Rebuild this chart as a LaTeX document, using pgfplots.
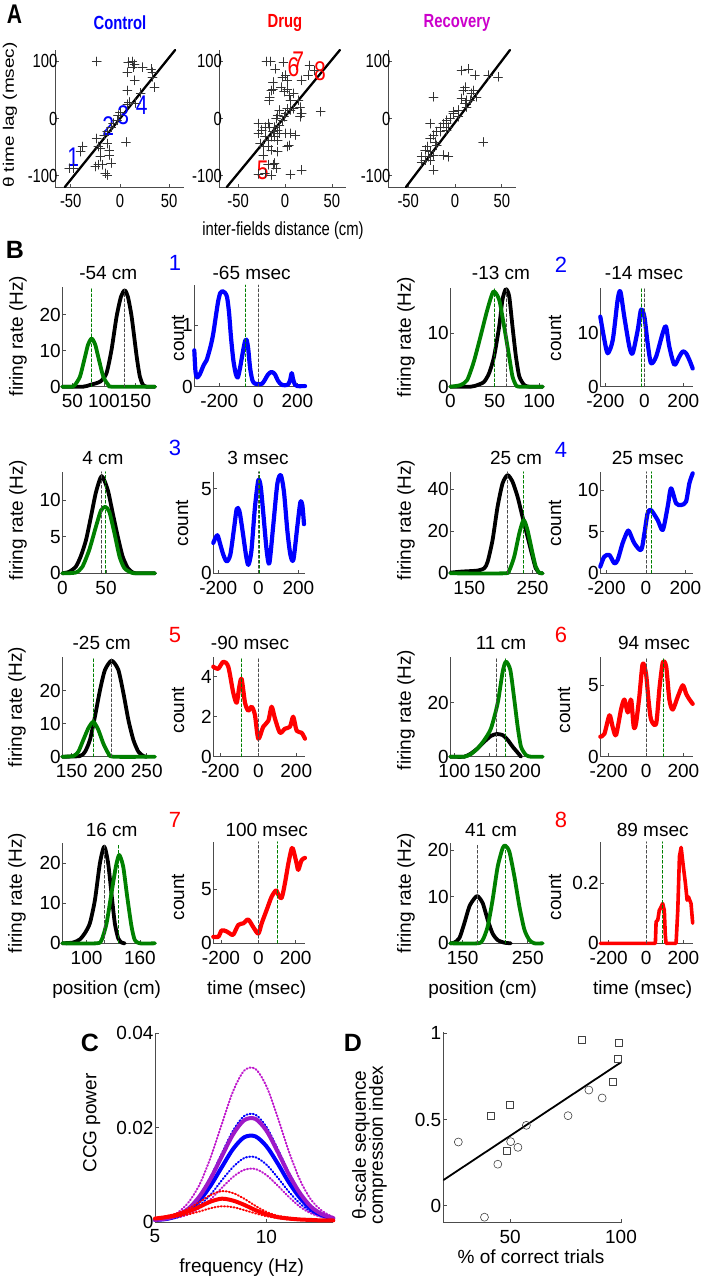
\documentclass[border=0pt]{standalone}
\usepackage{pgfplots}
\pgfplotsset{compat=1.18}
\usepackage{fontspec}
\setmainfont{Liberation Sans}
\newfontfamily\Afont[FakeStretch=0.78]{Liberation Sans}
\definecolor{mgreen}{rgb}{0,0.5,0}
\definecolor{mblue}{rgb}{0,0,1}
\definecolor{mred}{rgb}{1,0,0}
\definecolor{mmag}{rgb}{0.75,0.1,0.8}
\definecolor{mmagS}{rgb}{0.62,0.1,0.78}
\definecolor{axgray}{rgb}{0.3,0.3,0.3}
\newcommand\tf{\fontsize{19}{19}\selectfont}
\newcommand\nf{\fontsize{22}{22}\selectfont}
\pgfplotsset{
 mat/.style={scale only axis, axis lines=left, axis line style={-, axgray, line width=0.7pt},
   tick align=inside, major tick length=3.5pt, tick style={axgray, line width=0.7pt},
   clip=false, anchor=south west, scaled ticks=false,
   tick label style={font=\tf},
   /pgf/number format/assume math mode=true,
   xticklabel style={yshift=-4pt}, yticklabel style={xshift=2pt},
   every axis plot/.append style={line join=round, line cap=round}},
 box/.style n args={4}{at={(#1pt,-#4pt)},width=#2pt,height=#3pt},
 matA/.style={mat, tick label style={font=\Afont\tf}, yticklabel style={xshift=4pt},
   xmax=65, ymin=-120, ymax=120, xtick={-50,0,50}, ytick={-100,0,100}},
 pts/.style={only marks, mark=+, mark size=4.5pt, black!80, mark options={line width=0.6pt}},
 reg/.style={black, line width=2.3pt},
 blk/.style={black, line width=3.8pt, smooth, tension=0.4},
 grn/.style={mgreen, line width=3.8pt, smooth, tension=0.4},
 kd/.style={black!70, line width=0.6pt, dash pattern=on 3pt off 2pt},
 gd/.style={mgreen, line width=0.6pt, dash pattern=on 3pt off 2pt},
 ccgb/.style={mblue, line width=4.2pt, smooth, tension=0.45},
 ccgr/.style={mred, line width=4.2pt, smooth, tension=0.45},
}
\begin{document}
\begin{tikzpicture}
\path[use as bounding box] (0pt,0pt) rectangle (702pt,-1280pt);
% ---------------- Panel A ----------------
\node[font=\Afont\bfseries\fontsize{27}{27}\selectfont] at (14.5pt,-14pt) {A};
\node[font=\Afont\bfseries\tf, text=mblue] at (120pt,-23pt) {Control};
\node[font=\Afont\bfseries\tf, text=mred] at (285pt,-23pt) {Drug};
\node[font=\Afont\bfseries\tf, text={rgb,1:red,0.8;green,0;blue,0.8}] at (457pt,-23pt) {Recovery};
\node[font=\tf, rotate=90] at (10pt,-115pt) {\scalebox{1}[0.8]{θ time lag (msec)}};
\node[font=\Afont\tf] at (283pt,-231pt) {inter-fields distance (cm)};
\begin{axis}[matA, box={55}{129}{137}{187}, xmin=-66]
\addplot[pts] coordinates {(-23.6,100)(8.4,99)(12.5,100)(14.8,95)(7.5,81)(23,90)(13,90)(33,81)(33,73)(31.5,87)
(15,67)(7.5,49)(35,55)(21,45)(16,27)(9,29)(7.5,25)(-2,6)(0,10)(-3,-3)(-7,-8)(-9,-15)(-13,-23)(-16,-29)
(6,-41)(-23.6,-35)(-22,-49)(-20,-52)(-13,-44)(-11,-55)(-11,-64)(-20,-67)(-22,-81)(-25,-84)(-9,-78)(-18,-81)
(-13,-99)(-15,-96)(-38,-49)(-40,-58)(-51.5,-87)(-47,-87)};
\addplot[reg] coordinates {(-56,-120)(56,120)};
\node[font=\Afont\fontsize{27}{27}\selectfont, text=mblue] at (axis cs:-47.6,-67) {1};
\node[font=\Afont\fontsize{27}{27}\selectfont, text=mblue] at (axis cs:-11.9,-13) {2};
\node[font=\Afont\fontsize{27}{27}\selectfont, text=mblue] at (axis cs:3.4,6) {3};
\node[font=\Afont\fontsize{27}{27}\selectfont, text=mblue] at (axis cs:22,23) {4};
\end{axis}
\begin{axis}[matA, box={219.3}{126.7}{137}{187}, xmin=-70]
\addplot[pts] coordinates {(-19.7,100)(-15.3,100)(-1.7,99)(-10.5,87)(0.7,76)(2.4,67)(-12.9,64)(-14.6,49)(-16.3,38)(-17,32)
(-4.4,55)(-1,47)(2.4,52)(4.1,41)(5.8,32)(9.2,44)(14.3,32)(16,20)(17.7,9)(9.2,17)(5.8,15)(2.4,17)(0.7,9)(-1,3)
(-2.7,-3)(-6.1,15)(-7.8,6)(-9.5,0)(-6.1,-12)(-7.8,-20)(-11.2,-15)(-12.9,-23)(-14.6,-32)(-16.3,-15)(-18,-9)
(-21.4,-15)(-24.8,-20)(-28.2,-26)(-21.4,-32)(-18,-38)(-11.2,-32)(-7.8,-38)(-6.1,-26)(0.7,-26)(5.8,-26)(10.9,-29)
(2.4,-49)(4.1,-47)(-7.8,-58)(-14.6,-55)(-18,-49)(-23.1,-49)(-26.5,-44)(-28.2,-9)(-23.1,-64)(-11.2,-78)(-9.5,-87)
(-12.9,-81)(-18,-81)(-21.4,-96)(-28.2,-97)(-14.6,-99)(5.8,-98)(17.7,-90)(26.2,93)(24.5,76)(17.7,67)(38,12)
(31.3,84)(16,3)(-2.7,73)(-12.9,51)};
\addplot[reg] coordinates {(-62,-120)(58.5,120)};
\node[font=\Afont\fontsize{27}{27}\selectfont, text=mred] at (axis cs:-23.7,-91) {5};
\node[font=\Afont\fontsize{27}{27}\selectfont, text=mred] at (axis cs:8.9,90) {6};
\node[font=\Afont\fontsize{27}{27}\selectfont, text=mred] at (axis cs:14.2,100) {7};
\node[font=\Afont\fontsize{27}{27}\selectfont, text=mred] at (axis cs:37.2,83) {8};
\end{axis}
\begin{axis}[matA, box={388}{127.8}{137}{187}, xmin=-71.6]
\addplot[pts] coordinates {(7.1,84)(14.2,87)(21.3,76)(35.5,76)(46,73)(-23,38)(8.9,49)(7.1,35)(12.4,32)(16,32)
(10.6,26)(12.4,20)(3.5,15)(-1.8,9)(-5.3,0)(-8.9,-9)(-12.4,-9)(-7.1,-15)(-8.9,-20)(-16,-15)(-19.5,-23)(-23,-29)
(-26.6,-35)(-21.3,-41)(-19.5,-47)(-30.1,-49)(-31.9,-55)(-26.6,-58)(-23,-64)(-28.4,-67)(-31.9,-73)(-35.5,-76)
(-26.6,-73)(-7.1,-67)(-12.4,-64)(-23,-90)(-26.6,-9)(30.1,-41)(-1.8,12)(3.5,3)(10.6,55)(19.5,49)(17.7,44)
(23,38)(-8.9,-3)(-16,-23)(-35.5,-67)};
\addplot[reg] coordinates {(-52.4,-120)(58.8,120)};
\end{axis}
% ---------------- Panel B ----------------
\node[font=\bfseries\fontsize{25}{25}\selectfont] at (15pt,-250pt) {B};
% pair 1
\node[font=\tf] at (108.3pt,-273pt) {-54 cm};
\node[font=\tf] at (251.7pt,-273pt) {-65 msec};
\node[font=\nf, text=mblue] at (175pt,-263pt) {1};
\node[font=\tf, rotate=90] at (18pt,-336pt) {firing rate (Hz)};
\node[font=\tf, rotate=90] at (178pt,-338pt) {count};
\begin{axis}[mat, box={62.3}{92.7}{100}{386.7}, xmin=34, xmax=181, ymin=0, ymax=27.8, xtick={50,100,150}, ytick={0,10,20}]
\addplot[blk] coordinates {(34,0)(67,0)(78,0.5)(94,1.4)(104,3.7)(112,10.2)(120,19.4)(127,25)(133,26.8)(138,25)(144,19.4)(152,8.3)(157,2.8)(162,0.5)(168,0)(181,0)};
\addplot[grn] coordinates {(34,0)(50,0)(54,0.5)(62,2.8)(70,8.3)(75,11.8)(80.6,13.4)(86,11.8)(91,8.3)(99,2.8)(107,0.5)(113,0)(181,0)};
\addplot[gd] coordinates {(80.6,0)(80.6,27.8)};
\addplot[kd] coordinates {(133,0)(133,27.8)};
\end{axis}
\begin{axis}[mat, box={194.3}{110.7}{101.7}{386.7}, xmin=-328, xmax=239, ymin=0, ymax=1.65, xtick={-200,0,200}, ytick={0,1}]
\addplot[ccgb] coordinates {(-328,0.59)(-322,0.25)(-314,0.15)(-300,0.2)(-280,0.35)(-265,0.43)(-245,0.65)(-231,0.86)(-215,1.2)(-205,1.4)(-195,1.52)(-185,1.55)(-170,1.52)(-160,1.45)(-150,1.2)(-140,0.8)(-128,0.43)(-115,0.2)(-105,0.15)(-94,0.3)(-80,0.55)(-68,0.74)(-60,0.76)(-52,0.62)(-42,0.3)(-30,0.1)(-17,0.05)(0,0.04)(20,0.05)(35,0.12)(50,0.2)(68,0.24)(85,0.2)(100,0.1)(120,0.03)(150,0.03)(162,0.1)(171,0.22)(178,0.12)(188,0.03)(200,0.01)(239,0.01)};
\addplot[gd] coordinates {(-65,0)(-65,1.65)};
\addplot[kd] coordinates {(0,0)(0,1.65)};
\end{axis}
% pair 2
\node[font=\tf] at (501pt,-273pt) {-13 cm};
\node[font=\tf] at (644pt,-273pt) {-14 msec};
\node[font=\nf, text=mblue] at (561pt,-265pt) {2};
\node[font=\tf, rotate=90] at (406pt,-337pt) {firing rate (Hz)};
\node[font=\tf, rotate=90] at (555pt,-338pt) {count};
\begin{axis}[mat, box={450.3}{92.4}{98.4}{386.7}, xmin=0, xmax=104, ymin=0, ymax=18.4, xtick={0,50,100}, ytick={0,10}]
\addplot[blk] coordinates {(0,0)(22.7,0)(30.3,0.3)(37.9,0.9)(43.6,2.5)(49.2,5.6)(55,11.25)(58.7,16.25)(62.5,18.25)(66.3,16.9)(70,11.25)(73.9,5.6)(77.7,1.9)(83.3,0.3)(89,0)(104,0)};
\addplot[grn] coordinates {(0,0)(11.4,0.3)(19,1.25)(26.5,4.7)(34,9.4)(41.7,14.4)(48.5,17.8)(55,16.25)(60.6,11.25)(66.3,5.6)(70,1.9)(73.9,0.3)(77.7,0)(104,0)};
\addplot[gd] coordinates {(50,0)(50,18.4)};
\addplot[kd] coordinates {(62.5,0)(62.5,18.4)};
\end{axis}
\begin{axis}[mat, box={600.3}{92.4}{98.4}{386.7}, xmin=-226, xmax=248, ymin=0, ymax=18.4, xtick={-200,0,200}, ytick={0,10}]
\addplot[ccgb] coordinates {(-226,13.1)(-205,8.75)(-188,6.25)(-162,8.75)(-137,16.25)(-123,17.8)(-103,13.1)(-77,7.5)(-60,6.25)(-34,10.6)(-17,14.4)(0,13.1)(17,8.1)(34,4.4)(60,5.6)(94,10)(111,11.25)(128,7.5)(154,4.1)(179,5.6)(197,6.6)(214,6.25)(231,5)(248,3.4)};
\addplot[gd] coordinates {(-14,0)(-14,18.4)};
\addplot[kd] coordinates {(0,0)(0,18.4)};
\end{axis}
% pair 3
\node[font=\tf] at (103pt,-458pt) {4 cm};
\node[font=\tf] at (258pt,-458pt) {3 msec};
\node[font=\nf, text=mblue] at (175pt,-448pt) {3};
\node[font=\tf, rotate=90] at (18pt,-520pt) {firing rate (Hz)};
\node[font=\tf, rotate=90] at (182pt,-523pt) {count};
\begin{axis}[mat, box={62.3}{92.7}{101.6}{573.3}, xmin=0, xmax=106, ymin=0, ymax=13.9, xtick={0,50}, ytick={0,5,10}]
\addplot[blk] coordinates {(0,0)(7.7,0.2)(15.4,0.9)(21,2.3)(27,4.5)(32.7,7.7)(38.5,11.1)(45,13.3)(52,11.4)(57.7,8.2)(63.5,5)(69,2.3)(75,0.7)(80.8,0.1)(86.5,0)(106,0)};
\addplot[grn] coordinates {(0,0)(15.4,0.1)(23,0.9)(30.8,3.2)(38.5,6.4)(44.2,8.6)(49.2,9.1)(53.8,8.4)(59.6,5.5)(65.4,2.3)(71,0.7)(78.8,0.1)(84.6,0)(106,0)};
\addplot[gd] coordinates {(49.2,0)(49.2,13.9)};
\addplot[kd] coordinates {(45,0)(45,13.9)};
\end{axis}
\begin{axis}[mat, box={213.3}{91.7}{101.6}{573.3}, xmin=-225, xmax=233, ymin=0, ymax=6, xtick={-200,0,200}, ytick={0,5}]
\addplot[ccgb] coordinates {(-225,1.8)(-205,2.25)(-190,1.7)(-175,1.1)(-158,0.7)(-140,1.1)(-122,2.6)(-108,3.8)(-95,3.7)(-80,2.6)(-62,1.1)(-50,0.5)(-35,1.3)(-17,3.9)(0,5.5)(12,5.1)(25,3.5)(42,1.3)(55,0.6)(75,2.9)(95,5.3)(112,5.8)(128,4.8)(145,2.5)(160,1.1)(175,0.8)(195,2.8)(210,4.2)(220,4)(228,2.9)};
\addplot[gd] coordinates {(3,0)(3,6)};
\addplot[kd] coordinates {(0,0)(0,6)};
\end{axis}
% pair 4
\node[font=\tf] at (516pt,-458pt) {25 cm};
\node[font=\tf] at (647.7pt,-458pt) {25 msec};
\node[font=\nf, text=mblue] at (561pt,-450pt) {4};
\node[font=\tf, rotate=90] at (406pt,-520pt) {firing rate (Hz)};
\node[font=\tf, rotate=90] at (555pt,-523pt) {count};
\begin{axis}[mat, box={450.3}{92.4}{101.6}{573.3}, xmin=120, xmax=266, ymin=0, ymax=48.2, xtick={150,250}, ytick={0,20,40}]
\addplot[blk] coordinates {(120,0.3)(136.8,0.8)(163,1.3)(173.7,2.4)(179,5.5)(186.8,15.8)(194.7,31.6)(202.6,42.7)(210.5,46.6)(218.4,43.4)(226.3,36.3)(234,26.9)(242,17.4)(250,7.9)(255,2.4)(260.5,0.3)(265.8,0)};
\addplot[grn] coordinates {(120,0)(205,0)(213,1.3)(221,7.9)(229,19)(235.8,25.3)(242,20.5)(250,9.5)(255,3.2)(260.5,0.3)(265.8,0)};
\addplot[kd] coordinates {(210.5,0)(210.5,48.2)};
\addplot[gd] coordinates {(235.8,0)(235.8,48.2)};
\end{axis}
\begin{axis}[mat, box={600.3}{92.4}{101.6}{573.3}, xmin=-232, xmax=237, ymin=0, ymax=12.2, xtick={-200,0,200}, ytick={0,5,10}]
\addplot[ccgb] coordinates {(-232,0.8)(-212,2)(-186,2.2)(-161,1.2)(-144,1.6)(-119,3.6)(-95,5)(-85,5)(-59,3.6)(-25,2.8)(-8,4.8)(8,7.2)(25,7.6)(59,6.4)(85,5.2)(110,8)(127,10.2)(153,8.4)(178,8.2)(203,8.6)(220,10.8)(237,12)};
\addplot[kd] coordinates {(0,0)(0,12.2)};
\addplot[gd] coordinates {(25,0)(25,12.2)};
\end{axis}
% pair 5
\node[font=\tf] at (101.7pt,-643pt) {-25 cm};
\node[font=\tf] at (250pt,-643pt) {-90 msec};
\node[font=\nf, text=mred] at (175pt,-635pt) {5};
\node[font=\tf, rotate=90] at (17pt,-707pt) {firing rate (Hz)};
\node[font=\tf, rotate=90] at (178pt,-710pt) {count};
\begin{axis}[mat, box={62.3}{92.7}{100}{756.7}, xmin=137.6, xmax=261, ymin=0, ymax=30.3, xtick={150,200,250}, ytick={0,10,20}]
\addplot[blk] coordinates {(137.6,0)(161,0.2)(167.8,1.5)(174.4,5.1)(181,12.1)(187.8,20.2)(194.4,26.3)(203.3,29.1)(212.2,26.3)(219,19.2)(225.6,11.1)(232.2,5.1)(238.9,1.5)(245.6,0.2)(250,0)};
\addplot[grn] coordinates {(137.6,0)(152.2,0.2)(158.9,1.5)(165.6,5.1)(172.2,8.6)(178.9,10.6)(185.6,8.1)(192.2,4)(198.9,1)(205.6,0)(261,0)};
\addplot[gd] coordinates {(178.9,0)(178.9,30.3)};
\addplot[kd] coordinates {(203.3,0)(203.3,30.3)};
\end{axis}
\begin{axis}[mat, box={213.3}{91.7}{100}{756.7}, xmin=-237, xmax=246, ymin=0, ymax=5, xtick={-200,0,200}, ytick={0,2,4}]
\addplot[ccgr] coordinates {(-237,4.5)(-211,4.4)(-184,4.75)(-158,4.5)(-132,3.2)(-114,2.7)(-100,3.5)(-88,3.9)(-70,2.7)(-53,2.3)(-35,2.5)(-18,2.1)(0,0.9)(26,1.5)(53,1.8)(70,2.5)(88,1.9)(114,1.2)(140,1.4)(167,1.5)(184,2)(202,1.3)(228,1.2)(246,0.9)};
\addplot[gd] coordinates {(-90,0)(-90,5)};
\addplot[kd] coordinates {(0,0)(0,5)};
\end{axis}
% pair 6
\node[font=\tf] at (501pt,-643pt) {11 cm};
\node[font=\tf] at (654pt,-643pt) {94 msec};
\node[font=\nf, text=mred] at (561pt,-635pt) {6};
\node[font=\tf, rotate=90] at (406pt,-710pt) {firing rate (Hz)};
\node[font=\tf, rotate=90] at (564pt,-710pt) {count};
\begin{axis}[mat, box={450.3}{92.4}{100}{756.7}, xmin=94.3, xmax=225, ymin=0, ymax=37, xtick={100,150,200}, ytick={0,20}]
\addplot[blk] coordinates {(94.3,0)(114,0)(123.6,1.2)(133,3.1)(142.5,5.6)(151.9,7.7)(160,8.4)(168.4,8)(175.5,6.2)(182.5,3.7)(189.6,1.5)(194.3,0)};
\addplot[grn] coordinates {(94.3,0)(114,0)(123.6,1)(133,3.1)(142.5,6.2)(151.9,10.5)(161.3,19.8)(168.4,31.5)(173,35.2)(179.2,32.1)(184.9,21)(189.6,11.1)(194.3,3.7)(201.4,0.6)(208.5,0)(225,0)};
\addplot[kd] coordinates {(160,0)(160,37)};
\addplot[gd] coordinates {(172,0)(172,37)};
\end{axis}
\begin{axis}[mat, box={600.3}{92.4}{100}{756.7}, xmin=-245, xmax=250, ymin=0, ymax=7, xtick={-200,0,200}, ytick={0,5}]
\addplot[ccgr] coordinates {(-245,1.4)(-223,1.6)(-196,2.9)(-179,2.1)(-161,1.5)(-134,3.3)(-116,4)(-98,3.1)(-80,4)(-66,2.1)(-54,2.3)(-36,4.2)(-18,6.5)(0,5.8)(13,4)(27,2.6)(54,2.3)(72,4.8)(90,6.6)(108,6.3)(125,4)(143,3.3)(170,4.2)(197,5)(215,4.4)(233,4)(250,3.7)};
\addplot[kd] coordinates {(0,0)(0,7)};
\addplot[gd] coordinates {(94,0)(94,7)};
\end{axis}
% pair 7
\node[font=\tf] at (111.7pt,-830pt) {16 cm};
\node[font=\tf] at (266.7pt,-830pt) {100 msec};
\node[font=\nf, text=mred] at (175pt,-820pt) {7};
\node[font=\tf, rotate=90] at (17pt,-893pt) {firing rate (Hz)};
\node[font=\tf, rotate=90] at (178pt,-897pt) {count};
\begin{axis}[mat, box={62.3}{92.7}{100}{943.3}, xmin=72.7, xmax=177, ymin=0, ymax=25, xtick={100,160}, ytick={0,10,20}]
\addplot[blk] coordinates {(72.7,0)(85,0.2)(92.5,1)(98,2.5)(103.7,5)(109.4,10.8)(115,20)(119.9,24.2)(124.3,20)(128,12.5)(131.8,5)(135.6,1.25)(139.3,0.2)(143,0)};
\addplot[grn] coordinates {(72.7,0)(111.2,0)(116.9,0.8)(122.5,5)(128,12.5)(133,19.2)(136.7,22.1)(141.2,19.2)(145.7,11.7)(150.6,4.2)(154.3,0.8)(160,0)(177,0)};
\addplot[kd] coordinates {(119.9,0)(119.9,25)};
\addplot[gd] coordinates {(135.6,0)(135.6,25)};
\end{axis}
\begin{axis}[mat, box={213.3}{91.7}{101.6}{943.3}, xmin=-241, xmax=250, ymin=0, ymax=9.4, xtick={-200,0,200}, ytick={0,5}]
\addplot[ccgr] coordinates {(-241,0.6)(-214,0.6)(-196,1.2)(-170,1.1)(-152,0.9)(-134,0.8)(-107,1.7)(-80,1.85)(-54,2.2)(-27,1.5)(0,0.9)(18,1.85)(45,3.1)(71,4.3)(95,4.9)(107,4.5)(125,4.2)(143,5.6)(161,7.4)(179,8.8)(188,8.6)(205,7.4)(214,6.8)(232,7.7)(250,7.9)};
\addplot[kd] coordinates {(0,0)(0,9.4)};
\addplot[gd] coordinates {(100,0)(100,9.4)};
\end{axis}
% pair 8
\node[font=\tf] at (491pt,-830pt) {41 cm};
\node[font=\tf] at (652.7pt,-830pt) {89 msec};
\node[font=\nf, text=mred] at (561pt,-820pt) {8};
\node[font=\tf, rotate=90] at (406pt,-893pt) {firing rate (Hz)};
\node[font=\tf, rotate=90] at (555pt,-897pt) {count};
\begin{axis}[mat, box={450.3}{92.4}{100}{943.3}, xmin=131, xmax=273, ymin=0, ymax=21.4, xtick={150,250}, ytick={0,10,20}]
\addplot[blk] coordinates {(131,0)(137,0.14)(144.9,1.1)(152.6,4.3)(160.3,7.9)(168,9.6)(173,10.1)(180.8,8.6)(188.5,5)(196,2.1)(203.8,0.7)(214,0.14)(224,0)};
\addplot[grn] coordinates {(131,0)(173,0)(180.8,0.7)(188.5,3.6)(196,9.3)(203.8,16.4)(211.5,20.4)(215.6,20.9)(221.8,19.6)(229.5,14.3)(237.2,7.9)(244.9,2.9)(252.6,0.7)(260,0)(273,0)};
\addplot[kd] coordinates {(173,0)(173,21.4)};
\addplot[gd] coordinates {(215.6,0)(215.6,21.4)};
\end{axis}
\begin{axis}[mat, box={600.3}{92.4}{101.6}{943.3}, xmin=-245, xmax=250, ymin=0, ymax=0.339, xtick={-200,0,200}, ytick={0,0.2}]
\addplot[mred, line width=3.6pt] coordinates {(-245,0)(50,0)(54,0.072)(63,0.078)(71,0.11)(80,0.12)(89,0.133)(98,0.11)(103,0.03)(107,0)(161,0)(170,0.11)(179,0.29)(188,0.32)(200,0.255)(211,0.2)(220,0.144)(227,0.155)(241,0.133)(250,0.067)};
\addplot[kd] coordinates {(0,0)(0,0.339)};
\addplot[gd] coordinates {(89,0)(89,0.339)};
\end{axis}
\node[font=\tf] at (106.7pt,-990pt) {position (cm)};
\node[font=\tf] at (256.7pt,-990pt) {time (msec)};
\node[font=\tf] at (482.7pt,-990pt) {position (cm)};
\node[font=\tf] at (642.7pt,-990pt) {time (msec)};
% ---------------- Panel C ----------------
\node[font=\bfseries\fontsize{25}{25}\selectfont] at (90pt,-1043pt) {C};
\node[font=\tf, rotate=90] at (91.7pt,-1123pt) {CCG power};
\node[font=\tf] at (241.7pt,-1268pt) {frequency (Hz)};
\begin{axis}[mat, box={155}{178.3}{189}{1222.3}, xmin=5, xmax=13, ymin=0, ymax=0.04, xtick={5,10}, ytick={0,0.02,0.04}, yticklabels={0,0.02,0.04}, yticklabel style={xshift=0pt},
  dotl/.style={line width=2pt, dash pattern=on 1pt off 2.2pt, smooth}, soll/.style={line width=4pt, smooth}]
\addplot[dotl, mblue] coordinates {(5,0.0005)(5.5,0.0008)(6,0.0015)(6.5,0.0030)(7,0.0057)(7.5,0.0097)(8,0.0146)(8.5,0.0194)(9,0.0225)(9.5,0.0228)(10,0.0202)(10.5,0.0156)(11,0.0106)(11.5,0.0064)(12,0.0035)(12.5,0.0018)(13,0.0009)};
\addplot[dotl, mblue] coordinates {(5,0.0005)(5.5,0.0007)(6,0.0011)(6.5,0.0020)(7,0.0036)(7.5,0.0059)(8,0.0089)(8.5,0.0117)(9,0.0136)(9.5,0.0138)(10,0.0122)(10.5,0.0095)(11,0.0065)(11.5,0.0040)(12,0.0022)(12.5,0.0012)(13,0.0007)};
\addplot[dotl, mmag] coordinates {(5,0.0006)(5.5,0.0010)(6,0.0020)(6.5,0.0042)(7,0.0080)(7.5,0.0138)(8,0.0208)(8.5,0.0277)(9,0.0321)(9.5,0.0325)(10,0.0288)(10.5,0.0223)(11,0.0151)(11.5,0.0090)(12,0.0048)(12.5,0.0024)(13,0.0011)};
\addplot[dotl, mmag] coordinates {(5,0.0005)(5.5,0.0006)(6,0.0010)(6.5,0.0017)(7,0.0030)(7.5,0.0049)(8,0.0073)(8.5,0.0096)(9,0.0111)(9.5,0.0113)(10,0.0100)(10.5,0.0078)(11,0.0054)(11.5,0.0033)(12,0.0019)(12.5,0.0011)(13,0.0007)};
\addplot[soll, mblue] coordinates {(5,0.0005)(5.5,0.0007)(6,0.0013)(6.5,0.0025)(7,0.0046)(7.5,0.0078)(8,0.0117)(8.5,0.0155)(9,0.0180)(9.5,0.0182)(10,0.0161)(10.5,0.0125)(11,0.0085)(11.5,0.0052)(12,0.0028)(12.5,0.0015)(13,0.0008)};
\addplot[soll, mmagS] coordinates {(5,0.0005)(5.5,0.0008)(6,0.0015)(6.5,0.0029)(7,0.0055)(7.5,0.0093)(8,0.0140)(8.5,0.0186)(9,0.0216)(9.5,0.0219)(10,0.0194)(10.5,0.0150)(11,0.0102)(11.5,0.0062)(12,0.0033)(12.5,0.0017)(13,0.0009)};
\addplot[dotl, mred] coordinates {(5,0.0009)(5.5,0.0013)(6,0.0019)(6.5,0.0029)(7,0.0043)(7.5,0.0058)(8,0.0066)(8.5,0.0062)(9,0.0050)(9.5,0.0035)(10,0.0022)(10.5,0.0014)(11,0.0010)(11.5,0.0007)(12,0.0006)(12.5,0.0005)(13,0.0004)};
\addplot[dotl, mred] coordinates {(5,0.0007)(5.5,0.0009)(6,0.0012)(6.5,0.0017)(7,0.0023)(7.5,0.0030)(8,0.0034)(8.5,0.0032)(9,0.0026)(9.5,0.0019)(10,0.0013)(10.5,0.0009)(11,0.0006)(11.5,0.0005)(12,0.0004)(12.5,0.0003)(13,0.0003)};
\addplot[soll, mred] coordinates {(5,0.0008)(5.5,0.0011)(6,0.0016)(6.5,0.0023)(7,0.0033)(7.5,0.0044)(8,0.0050)(8.5,0.0046)(9,0.0037)(9.5,0.0026)(10,0.0017)(10.5,0.0011)(11,0.0008)(11.5,0.0006)(12,0.0005)(12.5,0.0004)(13,0.0004)};
\end{axis}
% ---------------- Panel D ----------------
\node[font=\bfseries\fontsize{25}{25}\selectfont] at (353pt,-1043pt) {D};
\node[font=\tf, rotate=90] at (361pt,-1145pt) {θ-scale sequence};
\node[font=\tf, rotate=90] at (378pt,-1145pt) {compression index};
\node[font=\tf] at (531pt,-1257pt) {\% of correct trials};
\begin{axis}[mat, box={443.7}{177.3}{191}{1222.7}, xmin=20, xmax=100, ymin=-0.1, ymax=1.01, xtick={50,100}, ytick={0,0.5,1}, yticklabel style={xshift=-1pt}]
\addplot[black, line width=1.8pt] coordinates {(20,0.149)(100,0.832)};
\addplot[only marks, mark=square, mark size=3.5pt, black!75, mark options={line width=0.6pt}] coordinates {(82.5,0.961)(98.8,0.948)(98.5,0.853)(96.5,0.721)(41.1,0.522)(50,0.584)(48.5,0.319)};
\addplot[only marks, mark=o, mark size=4pt, black!75, mark options={line width=0.6pt}] coordinates {(26.6,0.369)(38.4,-0.068)(44.4,0.24)(50.2,0.371)(53.5,0.338)(57.3,0.466)(76.1,0.522)(85.5,0.671)(91.5,0.625)};
\end{axis}
\end{tikzpicture}
\end{document}
